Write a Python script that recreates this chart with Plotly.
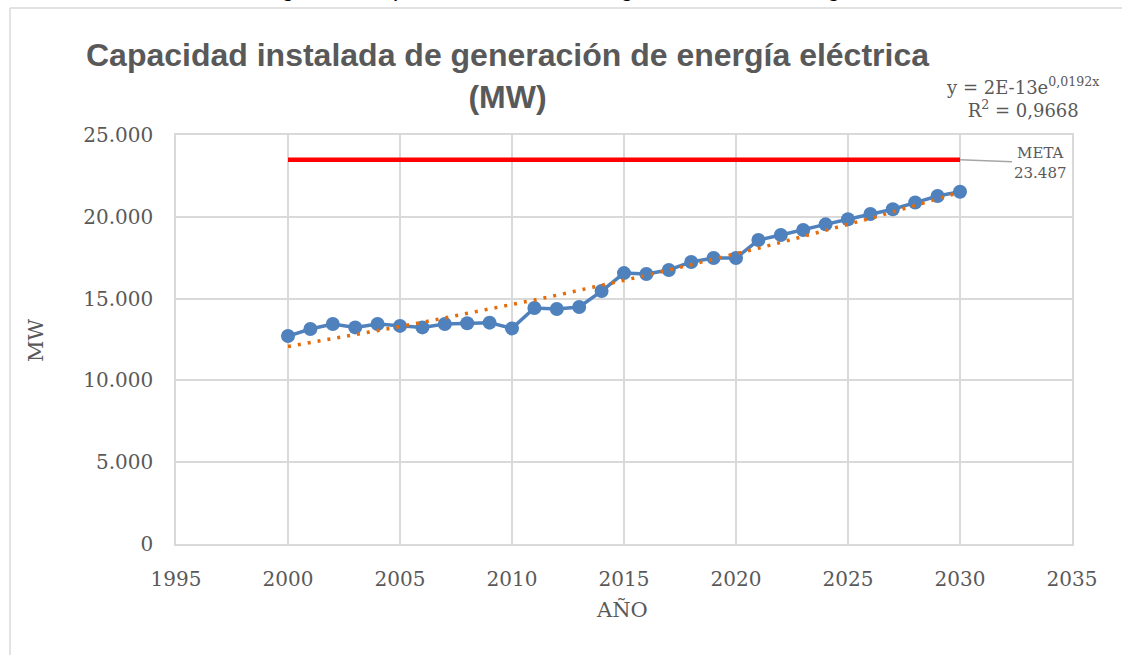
import numpy as np
import plotly.graph_objects as go

years = list(range(2000, 2031))
capacity_mw = [12710, 13140, 13450, 13240, 13450, 13330, 13240, 13450, 13490, 13530,
               13180, 14430, 14360, 14490, 15460, 16560, 16500, 16750, 17240, 17480,
               17480, 18580, 18890, 19190, 19540, 19850, 20170, 20460, 20870, 21270, 21530]
meta_value = 23487
meta_years = [2000, 2030]
x_ticks = [1995, 2000, 2005, 2010, 2015, 2020, 2025, 2030, 2035]
y_ticks = [0, 5000, 10000, 15000, 20000, 25000]
y_tick_text = ["0", "5.000", "10.000", "15.000", "20.000", "25.000"]

# exponential trendline (least squares on log values, as Excel does)
xa = np.array(years, dtype=float)
ya = np.array(capacity_mw, dtype=float)
b, ln_a = np.polyfit(xa, np.log(ya), 1)
trend = np.exp(ln_a + b * xa)

GRAY = "#595959"
SERIF = "DejaVu Serif, serif"
SANS = "Liberation Sans, Arial, sans-serif"

# plot area in page pixels: x 176..1072, y 135..544
def px(x):
    return (x - 176) / 896

def py(y):
    return (544 - y) / 409

fig = go.Figure()
fig.add_trace(go.Scatter(x=meta_years, y=[meta_value, meta_value], mode="lines",
                         line=dict(color="#FF0000", width=4.5), showlegend=False,
                         hoverinfo="skip"))
fig.add_trace(go.Scatter(x=years, y=capacity_mw, mode="lines+markers",
                         line=dict(color="#4F81BD", width=3.5),
                         marker=dict(color="#4F81BD", size=14), showlegend=False))
fig.add_trace(go.Scatter(x=years, y=trend, mode="lines",
                         line=dict(color="#E46C0A", width=3.5, dash="3px,7px"),
                         showlegend=False, hoverinfo="skip"))

fig.update_layout(
    width=1122, height=655,
    margin=dict(l=176, r=50, t=135, b=111),
    paper_bgcolor="white", plot_bgcolor="white",
    xaxis=dict(range=[1995, 2035], tickvals=x_ticks, showgrid=True,
               gridcolor="#D9D9D9", gridwidth=1.5, zeroline=False,
               showline=True, linecolor="#D9D9D9", linewidth=1.5, mirror=True,
               tickfont=dict(family=SERIF, size=20, color=GRAY), ticks="outside",
               ticklen=16, tickcolor="rgba(0,0,0,0)"),
    yaxis=dict(range=[0, 25000], tickvals=y_ticks, ticktext=y_tick_text, showgrid=True,
               gridcolor="#D9D9D9", gridwidth=1.5, zeroline=False,
               showline=True, linecolor="#D9D9D9", linewidth=1.5, mirror=True,
               tickfont=dict(family=SERIF, size=20, color=GRAY), ticks="outside",
               ticklen=17, tickcolor="rgba(0,0,0,0)"),
)

# axis titles
fig.add_annotation(text="AÑO", xref="paper", yref="paper", x=px(622), y=py(610),
                   xanchor="center", yanchor="middle", showarrow=False,
                   font=dict(family=SERIF, size=21, color=GRAY))
fig.add_annotation(text="MW", xref="paper", yref="paper", x=px(36), y=py(340),
                   xanchor="center", yanchor="middle", showarrow=False, textangle=-90,
                   font=dict(family=SERIF, size=21, color=GRAY))

# chart frame
fig.add_shape(type="line", xref="paper", yref="paper",
              x0=px(10), x1=px(1125), y0=py(8), y1=py(8),
              line=dict(color="#D9D9D9", width=1.5))
fig.add_shape(type="line", xref="paper", yref="paper",
              x0=px(10), x1=px(10), y0=py(8), y1=py(660),
              line=dict(color="#D9D9D9", width=1.5))

# clipped caption above chart
fig.add_annotation(text="<i>Figura 3. Capacidad instalada de generación de energía eléctrica</i>",
                   xref="paper", yref="paper", x=px(610), y=py(3.5),
                   xanchor="center", yanchor="bottom", showarrow=False,
                   font=dict(family=SANS, size=24, color="black"))

# title
fig.add_annotation(text="<b>Capacidad instalada de generación de energía eléctrica<br>(MW)</b>",
                   xref="paper", yref="paper", x=px(507), y=py(35),
                   xanchor="center", yanchor="top", showarrow=False, align="center",
                   font=dict(family=SANS, size=32, color=GRAY))

# trendline equation
fig.add_annotation(text="y = 2E-13e<sup>0,0192x</sup><br>R<sup>2</sup> = 0,9668",
                   xref="paper", yref="paper", x=px(1022), y=py(72),
                   xanchor="center", yanchor="top", showarrow=False, align="center",
                   font=dict(family=SERIF, size=18, color=GRAY))

# META label with leader line
fig.add_annotation(text="META<br>23.487", x=2030, y=meta_value,
                   ax=(1040 - 960), ay=3, xanchor="center", yanchor="middle",
                   showarrow=True, arrowhead=0, arrowcolor="#A6A6A6", arrowwidth=1.5,
                   standoff=0, align="center",
                   font=dict(family=SERIF, size=15, color=GRAY))

fig.write_html("out.html", config={"displayModeBar": False},
               post_script="document.body.style.margin='0';")
